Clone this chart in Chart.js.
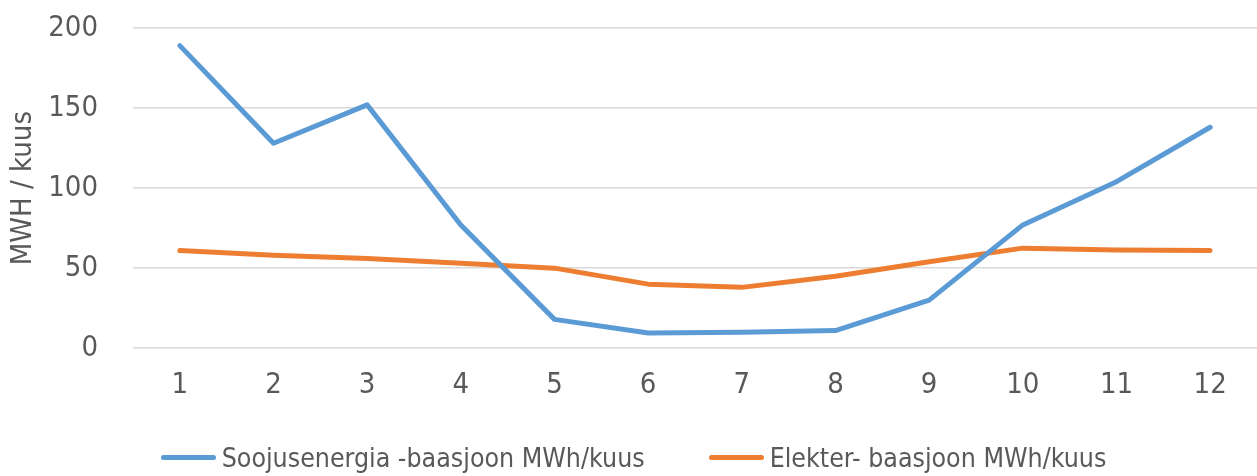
<!DOCTYPE html>
<html>
<head>
<meta charset="utf-8">
<script src="https://cdn.jsdelivr.net/npm/chart.js@4/dist/chart.umd.min.js"></script>
<style>
html,body{margin:0;padding:0;background:#fff;}
#wrap{width:1257px;height:476px;position:relative;}
#chartBox{position:absolute;left:0;top:0;width:1257px;height:476px;}
#legend{position:absolute;left:0;top:437px;width:1257px;height:40px;display:flex;justify-content:center;align-items:center;padding-left:10px;box-sizing:border-box;
  font-family:"DejaVu Sans Condensed","DejaVu Sans",sans-serif;font-stretch:condensed;font-size:26.5px;color:#595959;white-space:nowrap;}
.item{display:flex;align-items:center;margin:0 32px;}
.sw{display:inline-block;width:55px;height:5px;border-radius:3px;margin-right:6px;}
</style>
</head>
<body>
<div id="wrap">
  <div id="chartBox"><canvas id="c"></canvas></div>
  <div id="legend"></div>
</div>
<script>
const categories = ['1','2','3','4','5','6','7','8','9','10','11','12'];
const soojus = [189, 128, 152, 77, 18, 9.5, 10, 11, 30, 77, 104, 138];
const elekter = [61, 58, 56, 53, 50, 40, 38, 45, 54, 62.5, 61.3, 61];
const seriesNames = ['Soojusenergia -baasjoon MWh/kuus', 'Elekter- baasjoon MWh/kuus'];
const seriesColors = ['#5B9BD5', '#ED7D31'];
const yTitle = 'MWH / kuus';

const FONT = '"DejaVu Sans Condensed", "DejaVu Sans", sans-serif';
const TXT = '#595959';

const chart = new Chart(document.getElementById('c'), {
  type: 'line',
  data: {
    labels: categories,
    datasets: [
      {label: seriesNames[0], data: soojus, borderColor: seriesColors[0], backgroundColor: seriesColors[0],
       borderWidth: 5, pointRadius: 0, tension: 0, borderCapStyle: 'round', borderJoinStyle: 'round'},
      {label: seriesNames[1], data: elekter, borderColor: seriesColors[1], backgroundColor: seriesColors[1],
       borderWidth: 5, pointRadius: 0, tension: 0, borderCapStyle: 'round', borderJoinStyle: 'round'}
    ]
  },
  options: {
    responsive: true,
    maintainAspectRatio: false,
    animation: false,
    layout: {padding: {top: 0, right: 0, left: 6, bottom: 53}},
    plugins: {
      legend: {display: false},
      tooltip: {enabled: false}
    },
    scales: {
      x: {
        offset: true,
        grid: {display: false, drawTicks: false},
        border: {display: false},
        ticks: {color: TXT, font: {family: FONT, size: 29}, padding: 20}
      },
      y: {
        min: 0, max: 200,
        afterFit: (s) => { s.width = 127; s.paddingTop = 28; s.paddingBottom = 17; },
        ticks: {stepSize: 50, color: TXT, font: {family: FONT, size: 29}, padding: 35},
        grid: {color: '#D9D9D9', lineWidth: 1.5, drawTicks: false},
        border: {display: false},
        title: {display: true, text: yTitle, color: TXT, font: {family: FONT, size: 29}, padding: 0}
      }
    }
  }
});

const lg = document.getElementById('legend');
chart.data.datasets.forEach((ds, i) => {
  const it = document.createElement('div');
  it.className = 'item';
  const sw = document.createElement('span');
  sw.className = 'sw';
  sw.style.background = ds.borderColor;
  const tx = document.createElement('span');
  tx.textContent = ds.label;
  it.appendChild(sw); it.appendChild(tx);
  lg.appendChild(it);
});
</script>
</body>
</html>
